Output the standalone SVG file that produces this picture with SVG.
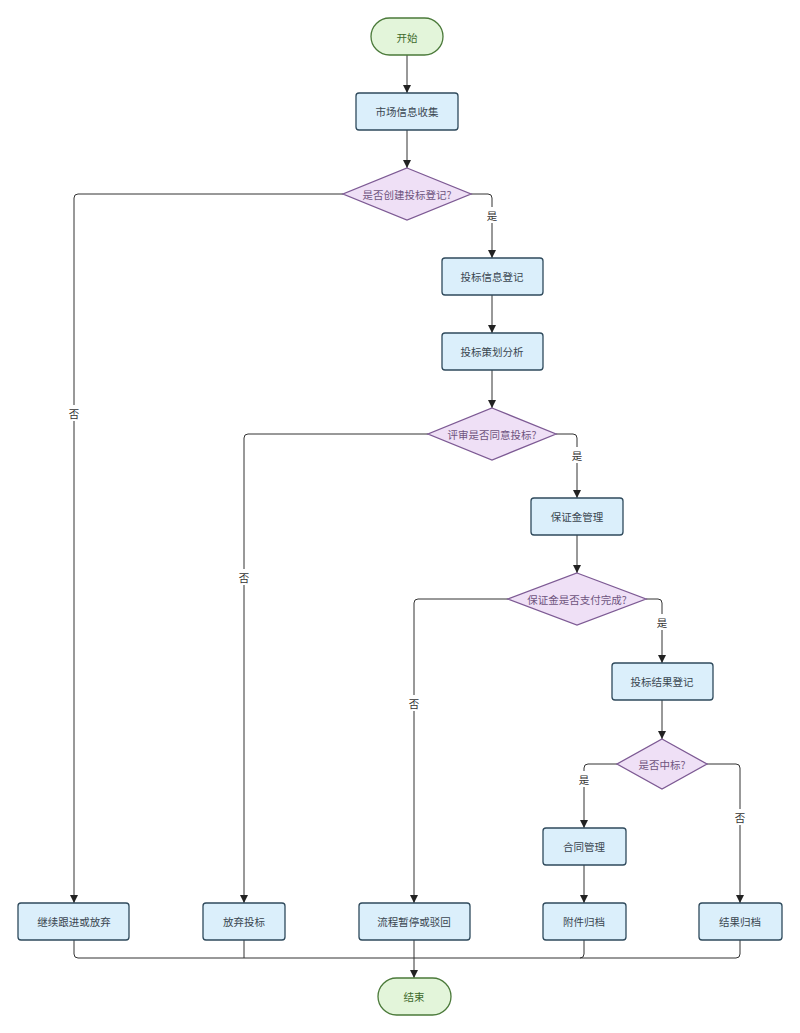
<svg xmlns="http://www.w3.org/2000/svg" width="800" height="1033" viewBox="0 0 800 1033">
<defs>
<marker id="arr" viewBox="0 0 10 10" refX="10" refY="5" markerWidth="8" markerHeight="8" markerUnits="userSpaceOnUse" orient="auto"><path d="M0,0 L10,5 L0,10 z" fill="#222"/></marker>
<style>
text{font-family:"Noto Sans CJK SC","Liberation Sans",sans-serif;font-size:10.5px;text-anchor:middle;dominant-baseline:central}
.p rect{fill:#dbeffb;stroke:#2f4a5c;stroke-width:1.3}
.p text{fill:#3a4650}
.d polygon{fill:#efe0f6;stroke:#7d5a94;stroke-width:1.3}
.d text{fill:#6e5480}
.t rect{fill:#e3f5da;stroke:#4b7a3a;stroke-width:1.3}
.t text{fill:#3e6a2c}
.c path{fill:none;stroke:#333;stroke-width:1}
.c path.a{marker-end:url(#arr)}
.lbl{fill:#333}
</style>
</defs>
<rect width="800" height="1033" fill="#fff"/>
<g class="c" id="connectors">
<path class="a" d="M407,55 V93"/>
<path class="a" d="M407,130 V168"/>
<path class="a" d="M343,194 H78 Q74,194 74,198 V903"/>
<path class="a" d="M471,194 H488 Q492,194 492,198 V258"/>
<path class="a" d="M492,295 V333"/>
<path class="a" d="M492,370 V408"/>
<path class="a" d="M428,434 H248 Q244,434 244,438 V903"/>
<path class="a" d="M556,434 H573 Q577,434 577,438 V498"/>
<path class="a" d="M577,535 V573"/>
<path class="a" d="M508,599 H418 Q414,599 414,603 V903"/>
<path class="a" d="M646,599 H658 Q662,599 662,603 V663"/>
<path class="a" d="M662,700 V739"/>
<path class="a" d="M617,764 H588 Q584,764 584,768 V828"/>
<path class="a" d="M707,764 H736 Q740,764 740,768 V903"/>
<path class="a" d="M584,865 V903"/>
<path d="M74,940 V954 Q74,958 78,958 H414"/>
<path d="M244,940 V958"/>
<path d="M584,940 V954 Q584,958 580,958 H414"/>
<path d="M740,940 V954 Q740,958 736,958 H580"/>
<path class="a" d="M414,940 V978"/>
<rect x="66" y="405" width="16" height="16" fill="#fff"/><text class="lbl" x="74" y="413">否</text>
<rect x="484" y="207" width="16" height="16" fill="#fff"/><text class="lbl" x="492" y="215">是</text>
<rect x="236" y="569" width="16" height="16" fill="#fff"/><text class="lbl" x="244" y="577">否</text>
<rect x="569" y="447" width="16" height="16" fill="#fff"/><text class="lbl" x="577" y="455">是</text>
<rect x="406" y="695" width="16" height="16" fill="#fff"/><text class="lbl" x="414" y="703">否</text>
<rect x="654" y="614" width="16" height="16" fill="#fff"/><text class="lbl" x="662" y="622">是</text>
<rect x="576" y="771" width="16" height="16" fill="#fff"/><text class="lbl" x="584" y="779">是</text>
<rect x="732" y="809" width="16" height="16" fill="#fff"/><text class="lbl" x="740" y="817">否</text>
</g>
<g id="start" class="t"><rect x="371" y="18" width="72" height="37" rx="18.5"/><text x="407" y="37">开始</text></g>
<g id="n1" class="p"><rect x="356" y="93" width="102" height="37" rx="3"/><text x="407" y="111.5">市场信息收集</text></g>
<g id="d1" class="d"><polygon points="407,168 471,194 407,220 343,194"/><text x="407" y="194">是否创建投标登记?</text></g>
<g id="n2" class="p"><rect x="442" y="258" width="101" height="37" rx="3"/><text x="492" y="276.5">投标信息登记</text></g>
<g id="n3" class="p"><rect x="442" y="333" width="101" height="37" rx="3"/><text x="492" y="351.5">投标策划分析</text></g>
<g id="d2" class="d"><polygon points="492,408 556,434 492,460 428,434"/><text x="492" y="434">评审是否同意投标?</text></g>
<g id="n4" class="p"><rect x="531" y="498" width="92" height="37" rx="3"/><text x="577" y="516.5">保证金管理</text></g>
<g id="d3" class="d"><polygon points="577,573 646,599 577,625 508,599"/><text x="577" y="599">保证金是否支付完成?</text></g>
<g id="n5" class="p"><rect x="612" y="663" width="101" height="37" rx="3"/><text x="662" y="681.5">投标结果登记</text></g>
<g id="d4" class="d"><polygon points="662,739 707,764 662,789 617,764"/><text x="662" y="764">是否中标?</text></g>
<g id="n6" class="p"><rect x="543" y="828" width="83" height="37" rx="3"/><text x="584" y="846.5">合同管理</text></g>
<g id="b1" class="p"><rect x="18" y="903" width="111" height="37" rx="3"/><text x="74" y="921.5">继续跟进或放弃</text></g>
<g id="b2" class="p"><rect x="203" y="903" width="82" height="37" rx="3"/><text x="244" y="921.5">放弃投标</text></g>
<g id="b3" class="p"><rect x="359" y="903" width="111" height="37" rx="3"/><text x="414" y="921.5">流程暂停或驳回</text></g>
<g id="b4" class="p"><rect x="543" y="903" width="83" height="37" rx="3"/><text x="584" y="921.5">附件归档</text></g>
<g id="b5" class="p"><rect x="699" y="903" width="83" height="37" rx="3"/><text x="740" y="921.5">结果归档</text></g>
<g id="end" class="t"><rect x="378" y="978" width="73" height="37" rx="18.5"/><text x="414" y="996.5">结束</text></g>
</svg>
